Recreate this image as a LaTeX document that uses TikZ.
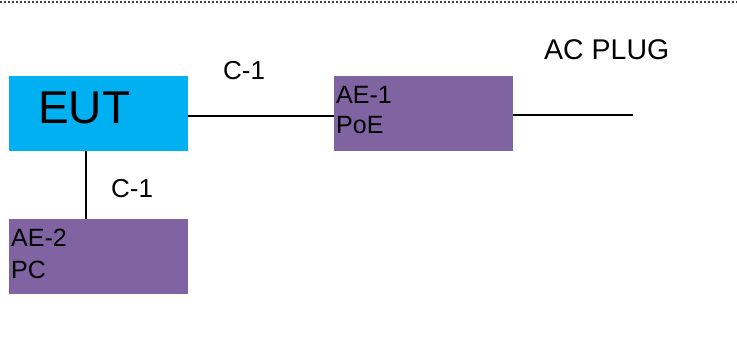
\documentclass[tikz,border=0pt]{standalone}
\usepackage{fontspec}
\setmainfont{Liberation Sans}
\definecolor{eutblue}{HTML}{00B0F0}
\definecolor{aepurple}{HTML}{8064A2}
\begin{document}
\begin{tikzpicture}[x=1pt,y=-1pt,
  box/.style={draw=none,minimum width=179pt,minimum height=75pt,inner sep=0pt,outer sep=0pt},
  eutbox/.style={box,fill=eutblue},
  aebox/.style={box,fill=aepurple},
  wire/.style={draw=black,line width=1.2pt},
  lbl/.style={inner sep=0pt,anchor=base west,font=\fontsize{25}{30}\selectfont}]
\useasboundingbox (0,0) rectangle (737,342);
\draw[line width=1.5pt,dash pattern=on 2pt off 2pt,color=black!75] (0,2) -- (737,2);
% boxes
\node[eutbox,anchor=north west] (eut) at (9,76) {};
\node[aebox,anchor=north west] (ae1) at (334,76) {};
\node[aebox,anchor=north west] (ae2) at (9,219) {};
% box texts
\node[inner sep=0pt,anchor=base west,font=\fontsize{46}{50}\selectfont] (euttxt) at (38,124) {EUT};
\node[lbl] (ae1a) at (336,104) {AE-1};
\node[lbl] (ae1b) at (336,134) {PoE};
\node[lbl] (ae2a) at (11,247) {AE-2};
\node[lbl] (ae2b) at (11,278) {PC};
% labels
\node[inner sep=0pt,anchor=base west,font=\fontsize{26}{30}\selectfont] (c1a) at (223,80) {C-1};
\node[inner sep=0pt,anchor=base west,font=\fontsize{26}{30}\selectfont] (c1b) at (111,197) {C-1};
\node[inner sep=0pt,anchor=base west,font=\fontsize{28.5}{32}\selectfont] (acplug) at (544,60) {AC PLUG};
% connectors
\coordinate (plugend) at (633,115);
\draw[wire] (eut.east |- 0,116) -- (ae1.west |- 0,116);
\draw[wire] (ae1.east |- 0,115) -- (plugend);
\draw[line width=1.5pt] (eut.south -| 86,0) -- (ae2.north -| 86,0);
\end{tikzpicture}
\end{document}
